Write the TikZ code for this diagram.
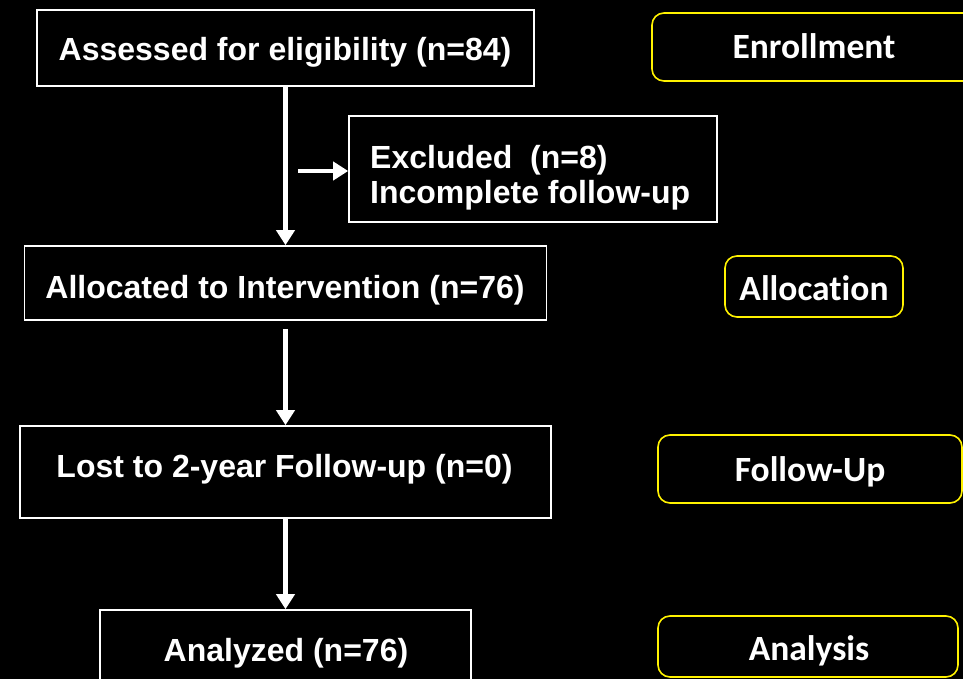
\documentclass[tikz,border=0pt]{standalone}
\usepackage{fontspec}
\setmainfont{Liberation Sans}
\newfontfamily\calfont{Carlito}[Ligatures={NoCommon,NoRequired,NoContextual}]
\usetikzlibrary{arrows.meta}
\begin{document}
\begin{tikzpicture}[x=1pt,y=-1pt,
  wbox/.style={draw=white,line width=1.6pt,fill=black,inner sep=0pt,anchor=center},
  wtext/.style={text=white,font=\fontsize{32}{36}\selectfont\bfseries,inner sep=0pt,anchor=base},
  ybox/.style={draw=yellow,line width=1.6pt,rounded corners=12pt,fill=black,inner sep=0pt,anchor=center},
  ytext/.style={text=white,font=\calfont\fontsize{35.5}{40}\selectfont\bfseries,inner sep=0pt,anchor=base},
  arr/.style={draw=white,line width=4.2pt,-{Triangle[width=18pt,length=15pt]}}]
\useasboundingbox (0,0) rectangle (963,679);
\clip (0,0) rectangle (963,679);
\fill[black] (0,0) rectangle (963,679);
% main boxes
\node[wbox,minimum width=497pt,minimum height=76pt] (a1) at (285.5,48) {};
\node[wbox,minimum width=368pt,minimum height=106pt] (ex) at (533,169) {};
\node[wbox,minimum width=522pt,minimum height=74pt] (a2) at (285.5,283) {};
\node[wbox,minimum width=531pt,minimum height=92pt] (a3) at (285.5,472) {};
\node[wbox,minimum width=371pt,minimum height=80pt] (a4) at (285.5,650) {};
% main texts
\node[wtext] (a1t) at (285,61) {Assessed for eligibility (n=84)};
\node[wtext,anchor=base west] (ext1) at (370,168) {Excluded~~(n=8)};
\node[wtext,anchor=base west] (ext2) at (370,204) {Incomplete follow-up};
\node[wtext] (a2t) at (285,298) {Allocated to Intervention (n=76)};
\node[wtext] (a3t) at (284.5,477) {Lost to 2-year Follow-up (n=0)};
\node[wtext] (a4t) at (286,661) {Analyzed (n=76)};
% stage boxes
\node[ybox,minimum width=323pt,minimum height=68pt] (y1) at (813.5,47) {};
\node[ybox,minimum width=178pt,minimum height=61pt] (y2) at (814,286.5) {};
\node[ybox,minimum width=304pt,minimum height=68pt] (y3) at (810,469) {};
\node[ybox,minimum width=300pt,minimum height=61pt] (y4) at (808,646.5) {};
\node[ytext] (y1t) at (814,59) {Enrollment};
\node[ytext] (y2t) at (814,300) {Allocation};
\node[ytext] (y3t) at (810,481) {Follow-Up};
\node[ytext] (y4t) at (809,660) {Analysis};
% connectors
\coordinate (exstart) at (298,171);
\draw[arr] (a1.south) -- (a1.south |- a2.north);
\draw[arr] (exstart) -- (exstart -| ex.west);
\draw[arr,shorten <=8pt] (a2.south) -- (a2.south |- a3.north);
\draw[arr] (a3.south) -- (a3.south |- a4.north);
\end{tikzpicture}
\end{document}
